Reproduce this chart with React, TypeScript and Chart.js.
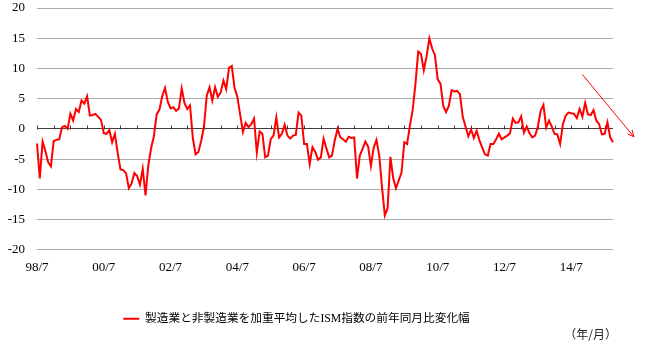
import React, { useEffect, useRef } from 'react';
import { Chart, registerables } from 'chart.js';

Chart.register(...registerables);

// ---- data ----
const startYear = 1998;
const startMonth = 7;

const ismYoYChange: number[] = [
  -2.4, -8.2, -2.1, -3.6, -5.5, -6.2, -2.0, -1.8, -1.7, 0.3, 0.5, 0.0,
  2.5, 1.4, 3.3, 2.8, 4.7, 4.2, 5.4, 2.2, 2.3, 2.5, 2.0, 1.5,
  -0.7, -0.8, -0.2, -2.2, -0.8, -4.0, -6.7, -6.8, -7.3, -9.8, -9.0, -7.3,
  -7.8, -9.2, -6.6, -11.0, -6.0, -3.2, -1.2, 2.4, 3.2, 5.4, 6.8, 4.5,
  3.4, 3.6, 3.0, 3.4, 6.7, 4.3, 3.3, 3.9, -1.5, -4.2, -3.8, -2.0,
  0.4, 5.5, 6.9, 4.7, 6.9, 5.3, 6.0, 8.0, 6.6, 10.1, 10.4, 6.8,
  5.3, 2.4, -0.5, 1.0, 0.3, 0.8, 1.7, -3.9, -0.4, -0.8, -4.7, -4.4,
  -1.7, -1.1, 1.9, -1.4, -0.8, 0.7, -1.1, -1.6, -1.1, -1.0, 2.7, 2.2,
  -2.5, -2.5, -5.8, -3.0, -3.8, -5.1, -4.7, -1.6, -3.2, -4.7, -4.4, -1.9,
  0.0, -1.4, -1.7, -2.1, -1.3, -1.5, -1.4, -8.2, -4.4, -3.3, -2.1, -2.9,
  -6.1, -3.1, -1.8, -4.4, -9.7, -14.3, -13.1, -4.6, -8.1, -9.8, -8.5, -7.2,
  -2.2, -2.5, 0.5, 3.1, 7.4, 12.8, 12.4, 9.7, 12.0, 15.0, 13.3, 12.2,
  8.2, 7.5, 3.8, 2.8, 3.8, 6.4, 6.2, 6.3, 5.7, 2.0, 0.4, -1.2,
  -0.1, -1.5, -0.3, -1.9, -3.1, -4.2, -4.4, -2.5, -2.5, -1.7, -0.8, -1.7,
  -1.4, -1.1, -0.7, 1.7, 1.0, 1.1, 2.1, -0.6, 0.4, -0.7, -1.4, -1.1,
  0.4, 3.0, 4.0, 0.2, 1.4, 0.4, -0.8, -0.9, -2.5, 0.8, 2.2, 2.7,
  2.6, 2.5, 1.8, 3.3, 2.0, 4.3, 2.4, 2.3, 3.1, 1.4, 0.8, -0.9,
  -0.8, 1.1, -1.4, -2.2,
];

const categories: string[] = ismYoYChange.map((_, i) => {
  const m = startMonth - 1 + i;
  const y = (startYear + Math.floor(m / 12)) % 100;
  return `${String(y).padStart(2, '0')}/${(m % 12) + 1}`;
});

const xTickLabels = ['98/7', '00/7', '02/7', '04/7', '06/7', '08/7', '10/7', '12/7', '14/7'];
const yMin = -20;
const yMax = 20;
const yStep = 5;
const minorTickEvery = 6; // months between small marks on the zero line

const seriesLabel = '製造業と非製造業を加重平均したISM指数の前年同月比変化幅';
const unitLabel = '（年/月）';

// trend arrow (category index, value)
const arrowFrom = { x: 196, y: 9.0 };
const arrowTo = { x: 214.5, y: -1.3 };

const RED = '#ff0000';
const GRID = '#ababab';
const AXIS = '#404040';
const SERIF = "'Liberation Serif', 'Times New Roman', serif";

const zeroTicksPlugin = {
  id: 'zeroTicks',
  beforeDatasetsDraw(chart: any) {
    const xs = chart.scales.x;
    const ys = chart.scales.y;
    const ctx = chart.ctx;
    const y0 = Math.round(ys.getPixelForValue(0)) + 0.5;
    ctx.save();
    ctx.strokeStyle = AXIS;
    ctx.lineWidth = 1;
    ctx.beginPath();
    for (let i = 0; i < categories.length; i += minorTickEvery) {
      const x = Math.round(xs.getPixelForValue(i)) + 0.5;
      ctx.moveTo(x, y0);
      ctx.lineTo(x, y0 - 4);
    }
    ctx.stroke();
    ctx.restore();
  },
};

const arrowPlugin = {
  id: 'trendArrow',
  afterDraw(chart: any) {
    const xs = chart.scales.x;
    const ys = chart.scales.y;
    const ctx = chart.ctx;
    const x1 = xs.getPixelForValue(arrowFrom.x);
    const y1 = ys.getPixelForValue(arrowFrom.y);
    const x2 = xs.getPixelForValue(arrowTo.x);
    const y2 = ys.getPixelForValue(arrowTo.y);
    const ang = Math.atan2(y2 - y1, x2 - x1);
    const head = 7;
    ctx.save();
    ctx.strokeStyle = RED;
    ctx.lineWidth = 1;
    ctx.beginPath();
    ctx.moveTo(x1, y1);
    ctx.lineTo(x2, y2);
    ctx.moveTo(x2 - head * Math.cos(ang - 0.45), y2 - head * Math.sin(ang - 0.45));
    ctx.lineTo(x2, y2);
    ctx.lineTo(x2 - head * Math.cos(ang + 0.45), y2 - head * Math.sin(ang + 0.45));
    ctx.stroke();
    ctx.restore();
  },
};

export default function App() {
  const canvasRef = useRef<HTMLCanvasElement | null>(null);

  useEffect(() => {
    if (!canvasRef.current) return;
    const chart = new Chart(canvasRef.current, {
      type: 'line',
      data: {
        labels: categories,
        datasets: [
          {
            label: seriesLabel,
            data: ismYoYChange,
            borderColor: RED,
            backgroundColor: RED,
            borderWidth: 2,
            pointRadius: 0,
            tension: 0,
            fill: false,
          },
        ],
      },
      options: {
        responsive: false,
        animation: false,
        devicePixelRatio: 1,
        layout: { padding: { left: -24, right: 33, top: 8, bottom: 16 } },
        scales: {
          x: {
            type: 'category',
            offset: false,
            grid: { display: false, drawTicks: false },
            border: { display: false },
            ticks: {
              autoSkip: false,
              maxRotation: 0,
              minRotation: 0,
              padding: 10,
              color: '#000',
              font: { family: SERIF, size: 13 },
              callback: (_v: any, i: number) =>
                xTickLabels.includes(categories[i]) ? categories[i] : '',
            },
            afterFit: (scale: any) => {
              scale.height = 30;
              scale.paddingLeft = 0;
              scale.paddingRight = 0;
            },
          },
          y: {
            min: yMin,
            max: yMax,
            grid: {
              drawTicks: false,
              color: (c: any) => (c.tick && c.tick.value === 0 ? AXIS : GRID),
              lineWidth: 1,
            },
            border: { display: false },
            ticks: {
              stepSize: yStep,
              padding: 12,
              color: '#000',
              font: { family: SERIF, size: 13 },
            },
            afterFit: (scale: any) => {
              scale.width = 61;
              scale.paddingTop = 0;
              scale.paddingBottom = 0;
            },
          },
          yRight: {
            position: 'right',
            display: true,
            min: yMin,
            max: yMax,
            grid: { display: false, drawTicks: false },
            border: { display: false },
            ticks: { display: false },
            afterFit: (scale: any) => {
              scale.width = 4;
              scale.paddingTop = 0;
              scale.paddingBottom = 0;
            },
          },
        },
        plugins: {
          legend: {
            display: true,
            position: 'bottom',
            labels: {
              boxWidth: 16,
              boxHeight: 2,
              padding: 33,
              color: '#222',
              font: { family: "'Liberation Serif', 'Noto Sans CJK JP'", size: 11.7 },
              generateLabels: () => [
                {
                  text: seriesLabel,
                  fillStyle: RED,
                  strokeStyle: RED,
                  lineWidth: 0,
                  hidden: false,
                  datasetIndex: 0,
                },
              ],
            },
          },
          title: {
            display: true,
            text: unitLabel,
            position: 'bottom',
            align: 'end',
            color: '#222',
            font: { family: "'Noto Sans CJK JP'", size: 12, weight: 'normal' },
            padding: { top: -7, bottom: 0 },
          },
          tooltip: { enabled: false },
        },
      },
      plugins: [zeroTicksPlugin, arrowPlugin],
    } as any);
    return () => chart.destroy();
  }, []);

  return (
    <div style={{ position: 'absolute', left: 0, top: 0, width: 650, height: 358, background: '#fff' }}>
      <canvas ref={canvasRef} width={650} height={358} />
    </div>
  );
}
